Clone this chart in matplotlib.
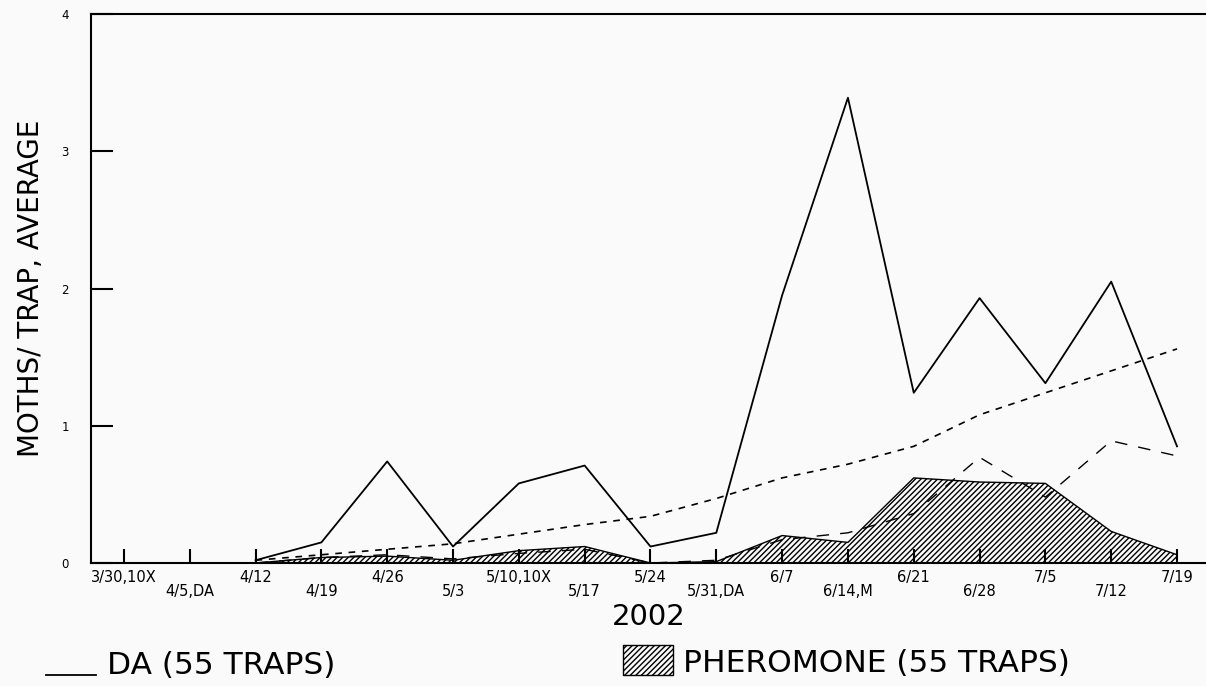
import numpy as np
import matplotlib
matplotlib.use('Agg')
import matplotlib.pyplot as plt
from matplotlib.lines import Line2D
from matplotlib.patches import Rectangle

nan = np.nan
dates = ['3/30,10X', '4/5,DA', '4/12', '4/19', '4/26', '5/3', '5/10,10X', '5/17',
         '5/24', '5/31,DA', '6/7', '6/14,M', '6/21', '6/28', '7/5', '7/12', '7/19']

# DA traps, solid line
da = [nan, nan, 0.02, 0.15, 0.74, 0.12, 0.58, 0.71, 0.12, 0.22, 1.95, 3.39,
      1.24, 1.93, 1.31, 2.05, 0.85]
# pheromone traps, hatched area
pheromone = [nan, nan, 0.0, 0.04, 0.05, 0.02, 0.09, 0.12, 0.0, 0.01, 0.20, 0.15,
             0.62, 0.59, 0.58, 0.23, 0.06]
# short dashed line
trend = [nan, nan, 0.02, 0.06, 0.10, 0.14, 0.21, 0.28, 0.34, 0.47, 0.62, 0.72,
         0.85, 1.08, 1.24, 1.40, 1.56]
# long dashed line
other = [nan, nan, 0.0, 0.04, 0.06, 0.03, 0.07, 0.10, 0.0, 0.02, 0.17, 0.22,
         0.36, 0.77, 0.48, 0.89, 0.78]

bg = '#fafafa'
fig = plt.figure(figsize=(12.06, 6.86), dpi=100, facecolor=bg)
ax = fig.add_axes([91/1206, 123/686, 1 - 91/1206, 549/686])
ax.set_facecolor(bg)

x = np.arange(len(dates))
ph = np.array(pheromone)
ax.fill_between(x, 0, ph, where=~np.isnan(ph), facecolor='none', edgecolor='black',
                hatch='//////', linewidth=1.0)
ax.plot(x, trend, color='black', lw=1.2, dashes=(4, 4))
ax.plot(x, other, color='black', lw=1.0, dashes=(9, 8))
ax.plot(x, da, color='black', lw=1.3)

ax.set_xlim(-0.5, 16.44)
ax.set_ylim(0, 4)
ax.spines['right'].set_visible(False)
for s in ['left', 'top', 'bottom']:
    ax.spines[s].set_linewidth(1.5)

ax.set_xticks(x[::2])
ax.set_xticklabels(dates[::2])
ax.set_xticks(x[1::2], minor=True)
ax.set_xticklabels(dates[1::2], minor=True)
ax.tick_params(axis='x', which='both', direction='in', length=10, width=1.5, labelsize=10.5)
ax.tick_params(axis='x', which='major', pad=5)
ax.tick_params(axis='x', which='minor', pad=15)
ax.set_yticks([0, 1, 2, 3, 4])
ax.tick_params(axis='y', direction='in', length=16, width=1.5, labelsize=8.5, pad=16)

ax.set_ylabel('MOTHS/ TRAP, AVERAGE', fontsize=20, labelpad=12)
ax.set_xlabel('2002', fontsize=21)
ax.xaxis.set_label_coords(0.5, -0.072)

# legend drawn by hand below the chart
fig.add_artist(Line2D([46/1206, 96/1206], [11/686, 11/686], color='black', lw=1.3,
                      transform=fig.transFigure))
fig.text(107/1206, 20/686, 'DA (55 TRAPS)', fontsize=22.5, va='center', ha='left')
fig.add_artist(Rectangle((623/1206, 11/686), 50/1206, 30/686, transform=fig.transFigure,
                         fill=False, hatch='//////', edgecolor='black', lw=1.0))
fig.text(683/1206, 23/686, 'PHEROMONE (55 TRAPS)', fontsize=22.5, va='center', ha='left')

fig.savefig('out.png', dpi=100, facecolor=bg)
